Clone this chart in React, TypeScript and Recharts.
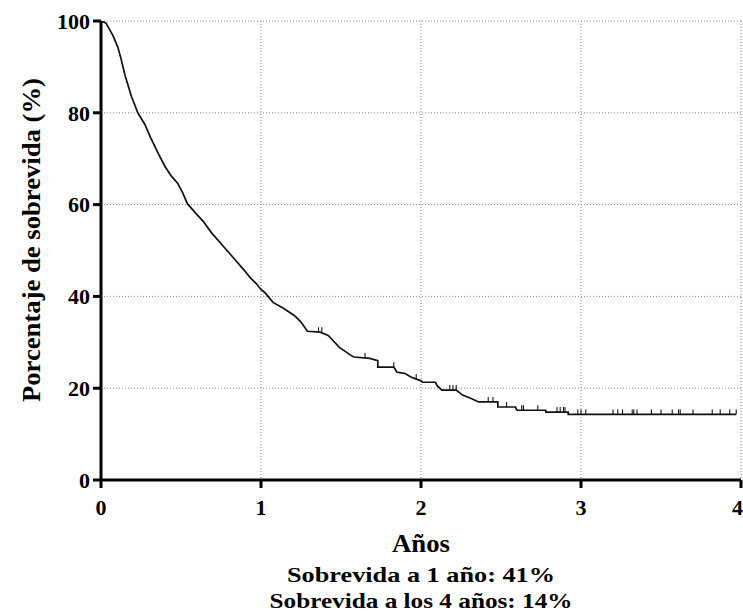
import { CartesianGrid, ComposedChart, Line, Scatter, XAxis, YAxis } from "recharts";

// survival curve (years, % surviving)
const years = [
  0, 0.03, 0.075, 0.106, 0.125, 0.15, 0.19, 0.23, 0.275, 0.31, 0.36, 0.4, 0.44, 0.48, 0.51, 0.54, 0.59, 0.64,
  0.69, 0.76, 0.83, 0.89, 0.93, 0.97, 1.0, 1.025, 1.075, 1.14, 1.21, 1.25, 1.29, 1.37, 1.42, 1.49, 1.56, 1.58,
  1.68, 1.73, 1.73, 1.83, 1.85, 1.9, 1.94, 2.0, 2.01, 2.09, 2.1, 2.13, 2.22, 2.26, 2.31, 2.36, 2.48, 2.48, 2.59,
  2.6, 2.78, 2.78, 2.92, 2.92, 3.97,
];
const survival = [
  100, 99.6, 96.8, 94.2, 91.8, 88.2, 83.6, 80.0, 77.4, 74.6, 71.0, 68.3, 66.2, 64.6, 62.6, 60.2, 58.2, 56.3,
  53.9, 51.1, 48.3, 45.9, 44.2, 42.8, 41.5, 40.8, 38.7, 37.4, 35.8, 34.4, 32.4, 32.2, 31.5, 28.9, 27.2, 26.8,
  26.5, 26.0, 24.6, 24.6, 23.5, 23.2, 22.4, 21.6, 21.3, 21.3, 20.6, 19.6, 19.6, 18.5, 17.8, 17.0, 17.0, 15.9, 15.9,
  15.2, 15.2, 14.8, 14.8, 14.3, 14.3,
];

// censored observations (tick marks)
const censorYears = [
  1.36, 1.38, 1.65, 1.83, 1.97, 2.18, 2.2, 2.22, 2.42, 2.45, 2.535, 2.63, 2.64, 2.73, 2.85, 2.87, 2.89, 2.9,
  2.98, 3.0, 3.03, 3.2, 3.23, 3.26, 3.32, 3.33, 3.35, 3.44, 3.5, 3.57, 3.61, 3.62, 3.7, 3.82, 3.87, 3.93, 3.97,
];
const censorSurvival = [
  32.2, 32.2, 26.6, 24.6, 22.0, 19.6, 19.6, 19.6, 17.0, 17.0, 15.9, 15.2, 15.2, 15.2, 14.8, 14.8, 14.8, 14.8,
  14.3, 14.3, 14.3, 14.3, 14.3, 14.3, 14.3, 14.3, 14.3, 14.3, 14.3, 14.3, 14.3, 14.3, 14.3, 14.3, 14.3, 14.3, 14.3,
];

const xTicks = [0, 1, 2, 3, 4];
const yTicks = [0, 20, 40, 60, 80, 100];

const curve = years.map((t, i) => ({ t, s: survival[i] }));
const censored = censorYears.map((t, i) => ({ t, s: censorSurvival[i] }));

const FONT = "'Liberation Serif', Tinos, 'Times New Roman', Times, serif";
const tickStyle = { fill: "#000", fontSize: 22, fontWeight: 700, fontFamily: FONT };

function CensorMark(props: any) {
  const { cx, cy } = props;
  if (cx == null || cy == null) return null;
  return <line x1={cx} x2={cx} y1={cy} y2={cy - 5} stroke="#000" strokeWidth={1} />;
}

export default function App() {
  return (
    <div style={{ position: "absolute", left: 0, top: 0, width: 743, height: 613, background: "#fff", fontFamily: FONT }}>
      <ComposedChart width={743} height={613} margin={{ top: 21, right: 2, bottom: 93, left: 41 }}>
        <CartesianGrid stroke="#888" strokeDasharray="1 2" strokeWidth={1} />
        <XAxis
          dataKey="t"
          type="number"
          domain={[0, 4]}
          ticks={xTicks}
          height={40}
          allowDataOverflow
          axisLine={{ stroke: "#000", strokeWidth: 3 }}
          tickLine={{ stroke: "#000", strokeWidth: 3 }}
          tickSize={8}
          tickMargin={11}
          tick={tickStyle}
        />
        <YAxis
          type="number"
          domain={[0, 100]}
          ticks={yTicks}
          width={60}
          allowDataOverflow
          axisLine={{ stroke: "#000", strokeWidth: 3 }}
          tickLine={{ stroke: "#000", strokeWidth: 3 }}
          tickSize={8}
          tickMargin={3}
          tick={tickStyle}
        />
        <Line
          data={curve}
          dataKey="s"
          type="linear"
          stroke="#111"
          strokeWidth={1.7}
          dot={false}
          activeDot={false}
          isAnimationActive={false}
        />
        <Scatter data={censored} dataKey="s" shape={<CensorMark />} isAnimationActive={false} />
      </ComposedChart>
      <svg
        width={743}
        height={613}
        style={{ position: "absolute", left: 0, top: 0, pointerEvents: "none", fontFamily: FONT, fontWeight: 700 }}
      >
        <text
          x={40}
          y={240}
          textAnchor="middle"
          fontSize={25}
          textLength={324}
          lengthAdjust="spacingAndGlyphs"
          transform="rotate(-90, 40, 240)"
        >
          Porcentaje de sobrevida (%)
        </text>
        <text x={421} y={552} textAnchor="middle" fontSize={25} textLength={58} lengthAdjust="spacingAndGlyphs">
          Años
        </text>
        <text x={421} y={582} textAnchor="middle" fontSize={22} textLength={268} lengthAdjust="spacingAndGlyphs">
          Sobrevida a 1 año: 41%
        </text>
        <text x={421} y={608} textAnchor="middle" fontSize={22} textLength={303} lengthAdjust="spacingAndGlyphs">
          Sobrevida a los 4 años: 14%
        </text>
      </svg>
    </div>
  );
}
